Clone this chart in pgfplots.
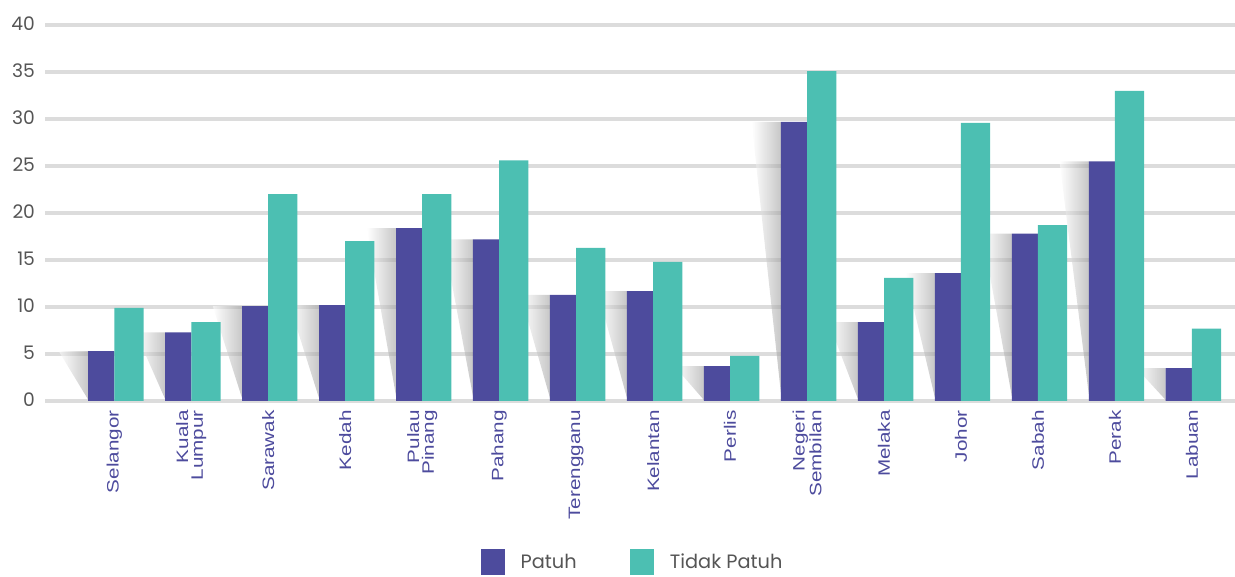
\documentclass[border=0pt]{standalone}
\usepackage{fontspec}
\setmainfont{Poppins}
\newfontfamily\lblfont[FakeStretch=1.25]{Liberation Sans}
\usepackage{pgfplots}
\usepackage{pgfplotstable}
\pgfplotsset{compat=1.18}
\definecolor{patuh}{HTML}{4D4B9D}
\definecolor{tidak}{HTML}{4CBFB2}
\definecolor{gridc}{HTML}{DCDCDC}
\definecolor{ticktxt}{HTML}{555555}

% x: category index, p: Patuh, t: Tidak Patuh
\pgfplotstableread{
x p t
0 5.3 9.9
1 7.3 8.4
2 10.1 22.0
3 10.2 17.0
4 18.4 22.0
5 17.2 25.6
6 11.3 16.3
7 11.7 14.8
8 3.7 4.8
9 29.7 35.1
10 8.4 13.1
11 13.6 29.6
12 17.8 18.7
13 25.5 33.0
14 3.5 7.7
}\datatable

% shape of the decorative shadow left of each Patuh bar (offset in x, fraction of height)
\pgfplotstableread{
dx fy
-0.72 1
-0.34 1
-0.34 0.03
-0.47 0.36
-0.60 0.69
}\shtpl

\newcommand\shadow[2]{\addplot[draw=none, left color=white, right color=black!40, fill opacity=0.55, forget plot] table[x expr=\thisrow{dx}+#1, y expr=\thisrow{fy}*#2]{\shtpl} -- cycle;}

\begin{document}
\begin{tikzpicture}
\useasboundingbox (-33.75pt,-132pt) rectangle (892.5pt,300.75pt);
\begin{axis}[
  scale only axis,
  width=892.5pt, height=282pt,
  xmin=-0.9, xmax=14.56,
  ymin=0, ymax=40,
  ytick={0,5,...,40},
  xtick={0,...,14},
  xticklabels={Selangor,{Kuala\\Lumpur},Sarawak,Kedah,{Pulau\\Pinang},Pahang,Terengganu,Kelantan,Perlis,{Negeri\\Sembilan},Melaka,Johor,Sabah,Perak,Labuan},
  xticklabel style={rotate=90, anchor=east, align=right, font=\lblfont\fontsize{12.4}{11}\selectfont, text=patuh, xshift=-3.5pt},
  /pgf/number format/assume math mode=true,
  yticklabel style={font=\fontsize{14}{14}\selectfont, text=ticktxt, xshift=-4pt, yshift=1pt},
  ymajorgrids,
  major grid style={draw=gridc, line width=2.6pt},
  axis line style={draw=none},
  major tick length=0pt,
  clip=false,
  legend style={at={(axis description cs:0.494,-0.428)}, anchor=center, draw=none, fill=none,
    legend columns=2, font=\fontsize{14.5}{14.5}\selectfont, text=ticktxt,
    /tikz/every even column/.append style={column sep=38pt},
    nodes={inner sep=2pt}},
  legend image code/.code={\fill[#1] (0pt,-9.5pt) rectangle (18pt,9.5pt); \path (28pt,0pt);},
]
\shadow{0}{5.3}
\shadow{1}{7.3}
\shadow{2}{10.1}
\shadow{3}{10.2}
\shadow{4}{18.4}
\shadow{5}{17.2}
\shadow{6}{11.3}
\shadow{7}{11.7}
\shadow{8}{3.7}
\shadow{9}{29.7}
\shadow{10}{8.4}
\shadow{11}{13.6}
\shadow{12}{17.8}
\shadow{13}{25.5}
\shadow{14}{3.5}
\addplot[ybar, bar width=0.34, bar shift=-0.17, fill=patuh, draw=none] table[x=x, y=p]{\datatable};
\addplot[ybar, bar width=0.38, bar shift=0.19, fill=tidak, draw=none] table[x=x, y=t]{\datatable};
\legend{Patuh, Tidak Patuh}
\end{axis}
\end{tikzpicture}
\end{document}
